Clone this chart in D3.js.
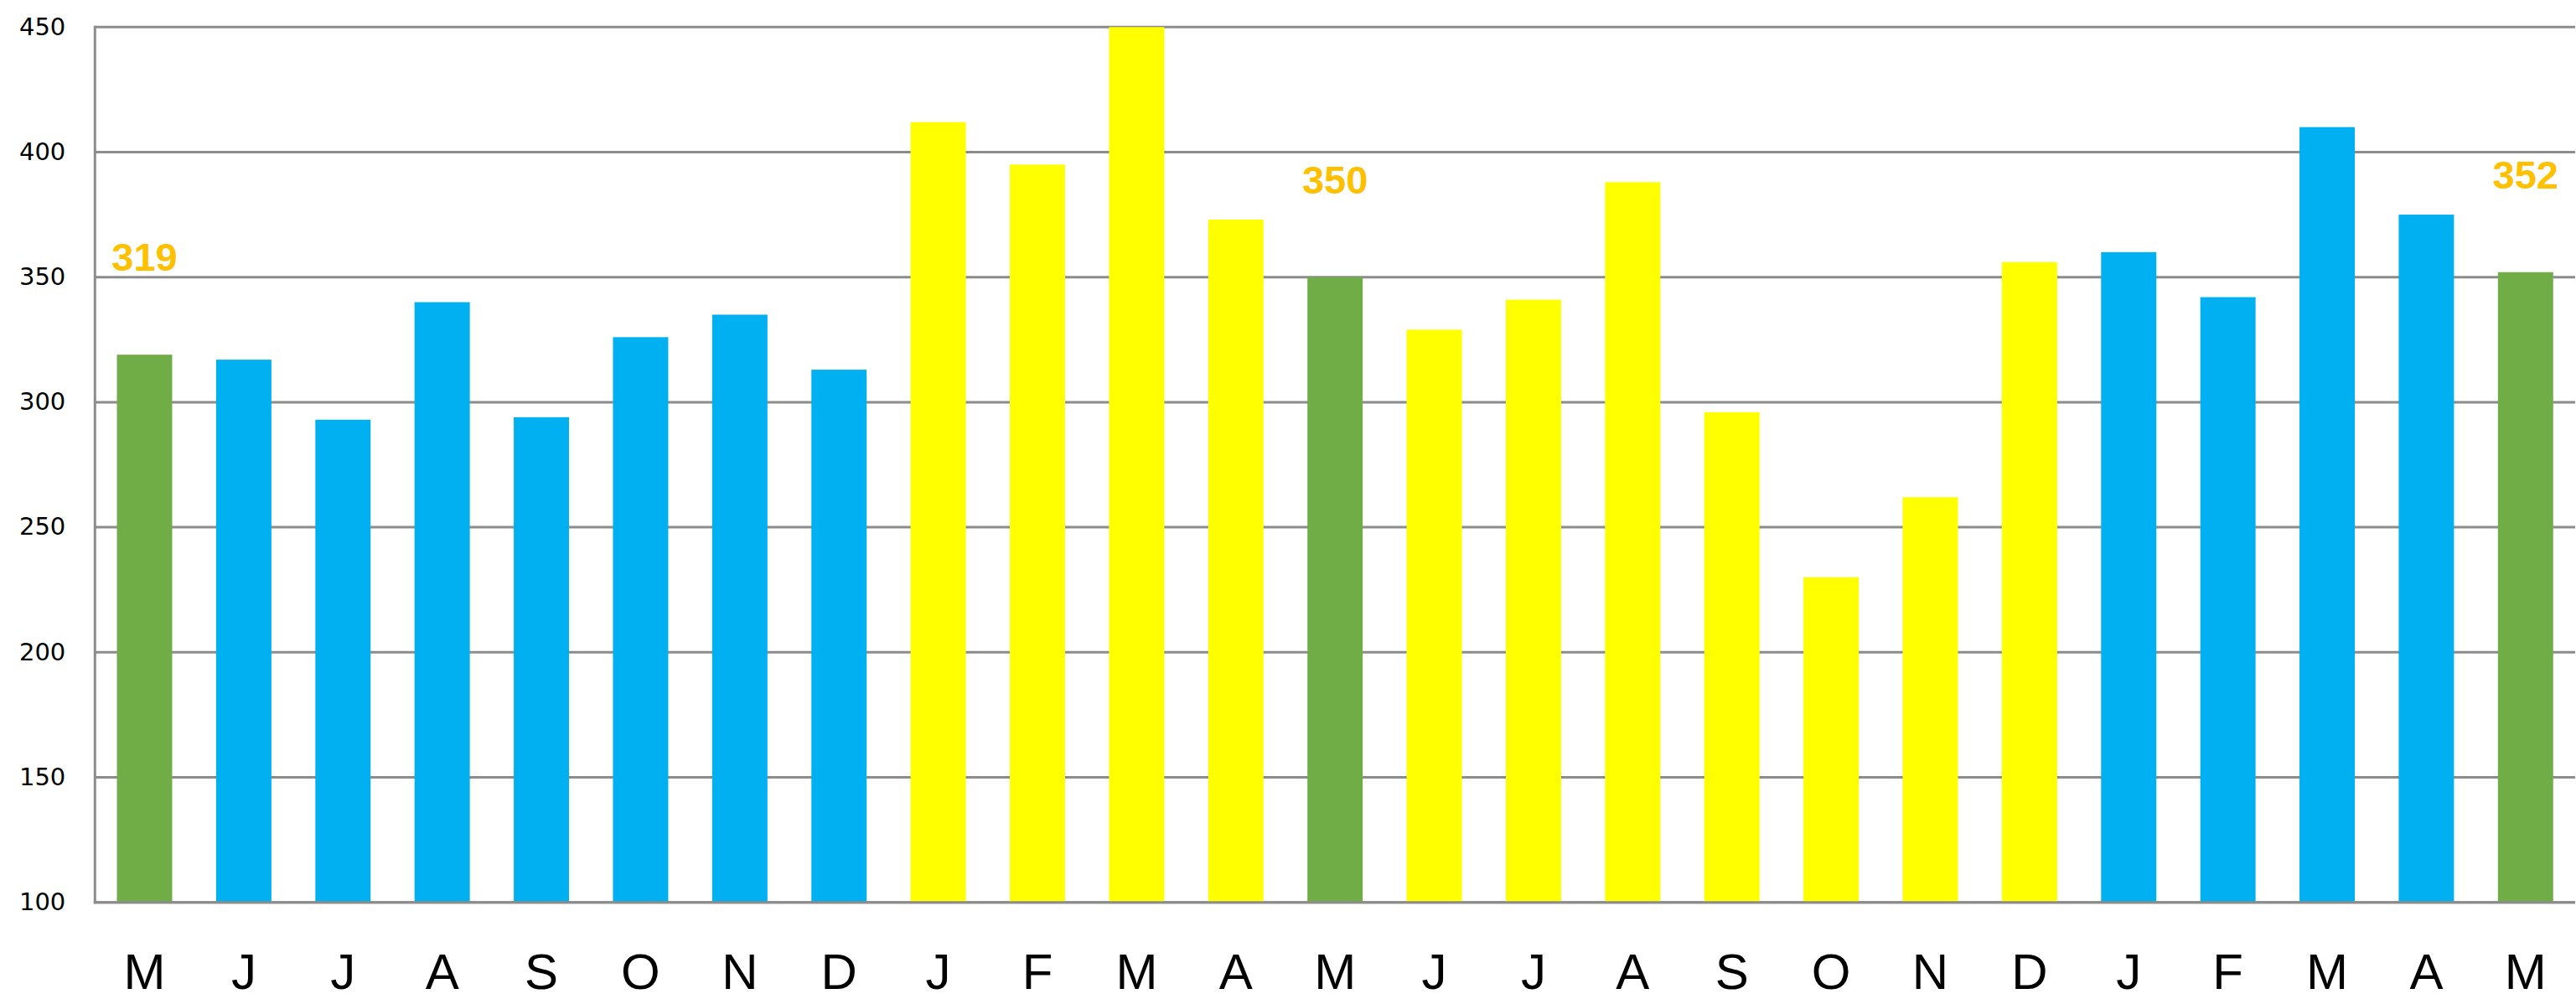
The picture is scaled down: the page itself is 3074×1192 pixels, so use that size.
<!DOCTYPE html>
<html>
<head>
<meta charset="utf-8">
<script src="https://cdn.jsdelivr.net/npm/d3@7"></script>
<style>
  body { margin: 0; background: #fff; }
</style>
</head>
<body>
<svg id="chart" width="3074" height="1192"></svg>
<script>
"use strict"

// month initials, May through May
var months = ["M","J","J","A","S","O","N","D","J","F","M","A","M","J","J","A","S","O","N","D","J","F","M","A","M"];

var values = [319, 317, 293, 340, 294, 326, 335, 313, 412, 395, 450, 373, 350, 329, 341, 388, 296, 230, 262, 356, 360, 342, 410, 375, 352];

// which period each bar belongs to
var groups = ["mark","blue","blue","blue","blue","blue","blue","blue","yellow","yellow","yellow","yellow","mark","yellow","yellow","yellow","yellow","yellow","yellow","yellow","blue","blue","blue","blue","mark"];

// bars that get an orange value label
var labelled = [0, 12, 24];

var yTicks = [100, 150, 200, 250, 300, 350, 400, 450];

var data = months.map(function(m, i) {
    return { idx: i, month: m, value: values[i], group: groups[i] };
});

var svg = d3.select("#chart");

var plotLeft = 113.3, plotRight = 3073, plotTop = 32.3, plotBottom = 1076.7;

var x = d3.scaleBand()
    .domain(d3.range(months.length))
    .range([plotLeft, plotRight])
    .paddingInner(0.443)
    .paddingOuter(0.2215);

var y = d3.scaleLinear()
    .domain([100, 450])
    .range([plotBottom, plotTop]);

var color = d3.scaleOrdinal()
    .domain(["mark", "blue", "yellow"])
    .range(["#70AD47", "#00B0F0", "#FFFF00"]);

// gridlines
svg.append("g")
    .selectAll("line")
    .data(yTicks)
    .enter()
    .append("line")
    .attr("x1", plotLeft)
    .attr("x2", plotRight)
    .attr("y1", function(d) { return y(d); })
    .attr("y2", function(d) { return y(d); })
    .attr("stroke", "#8c8c8c")
    .attr("stroke-width", 3);

// left axis line
svg.append("line")
    .attr("x1", plotLeft).attr("x2", plotLeft)
    .attr("y1", plotTop - 1.5).attr("y2", plotBottom + 1.5)
    .attr("stroke", "#8c8c8c")
    .attr("stroke-width", 3);

// y tick labels
var yAxis = svg.append("g")
    .attr("transform", "translate(" + plotLeft + ",0)")
    .call(d3.axisLeft(y).tickValues(yTicks).tickSize(0).tickPadding(35));
yAxis.select(".domain").remove();
yAxis.selectAll("text")
    .attr("dy", "0.3em")
    .style("font-family", "'DejaVu Sans', Verdana, sans-serif")
    .style("font-size", "29px")
    .attr("fill", "#000");

// bars
svg.append("g")
    .selectAll("rect")
    .data(data)
    .enter()
    .append("rect")
    .attr("x", function(d) { return x(d.idx); })
    .attr("width", x.bandwidth())
    .attr("y", function(d) { return y(d.value); })
    .attr("height", function(d) { return y(100) - y(d.value); })
    .attr("fill", function(d) { return color(d.group); });

// x labels
var xAxis = svg.append("g")
    .attr("transform", "translate(0," + plotBottom + ")")
    .call(d3.axisBottom(x).tickSize(0).tickPadding(61).tickFormat(function(i) { return months[i]; }));
xAxis.select(".domain").remove();
xAxis.selectAll("text")
    .style("font-family", "'Liberation Sans', Arial, sans-serif")
    .style("font-size", "60px")
    .attr("fill", "#000");

// value labels above the green bars
svg.append("g")
    .selectAll("text")
    .data(data.filter(function(d) { return labelled.indexOf(d.idx) >= 0; }))
    .enter()
    .append("text")
    .attr("x", function(d) { return x(d.idx) + x.bandwidth() / 2; })
    .attr("y", function(d) { return y(d.value) - 100; })
    .attr("text-anchor", "middle")
    .style("font-family", "'Liberation Sans', Arial, sans-serif")
    .style("font-weight", "bold")
    .style("font-size", "47px")
    .attr("fill", "#FFC000")
    .text(function(d) { return d.value; });

// bottom axis line on top of bars
svg.append("line")
    .attr("x1", plotLeft - 1.5).attr("x2", plotRight)
    .attr("y1", plotBottom).attr("y2", plotBottom)
    .attr("stroke", "#8c8c8c")
    .attr("stroke-width", 3);
</script>
</body>
</html>
